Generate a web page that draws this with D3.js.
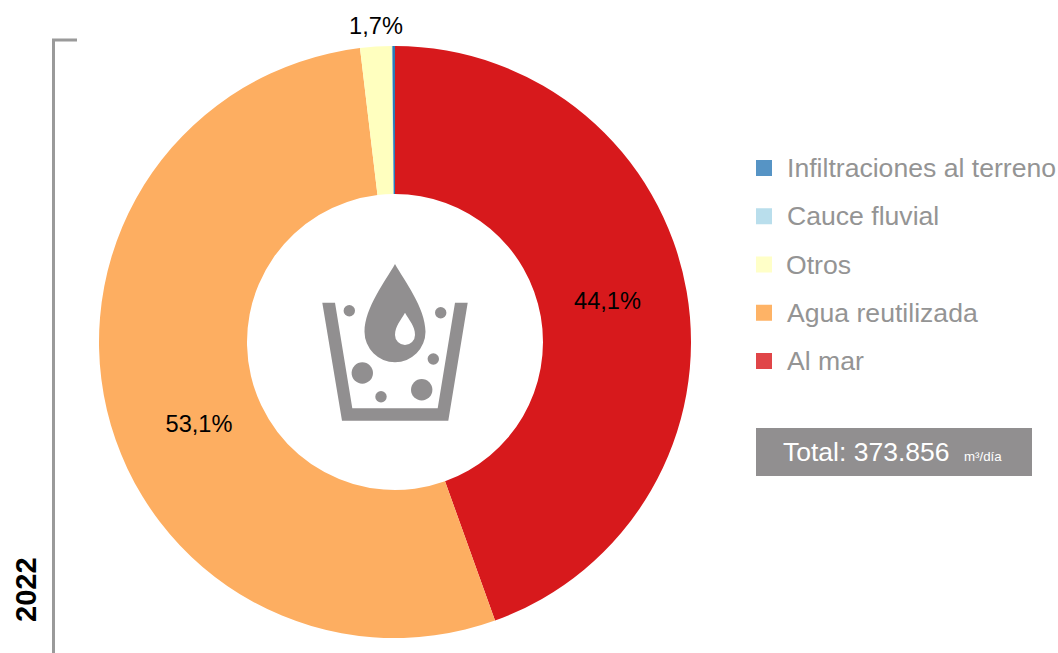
<!DOCTYPE html>
<html><head><meta charset="utf-8">
<style>html,body{margin:0;padding:0;background:#fff;overflow:hidden}svg{display:block}text{font-family:"Liberation Sans",Arial,sans-serif}</style>
<script src="https://cdn.jsdelivr.net/npm/d3@7"></script></head><body>
<script>
const categories = ["Al mar","Agua reutilizada","Otros","Cauce fluvial","Infiltraciones al terreno"];
const values = [44.1,53.1,1.7,0.03,0.14];
const sliceColors = ["#d7191c","#fdae61","#ffffbf","#abd9e9","#2c7bb6"];
const legendOrder = ["Infiltraciones al terreno","Cauce fluvial","Otros","Agua reutilizada","Al mar"];
const legendColors = {"Infiltraciones al terreno":"#5694c5","Cauce fluvial":"#b9deec","Otros":"#ffffc8","Agua reutilizada":"#feb366","Al mar":"#e04548"};
const labelled = {"Al mar":"44,1%","Agua reutilizada":"53,1%","Otros":"1,7%"};
const yearLabel = "2022";

const svg = d3.select("body").append("svg").attr("width",1058).attr("height",653);
const cx=395, cy=342;
const pie = d3.pie().sort(null).value(d=>d.v);
const arcs = pie(categories.map((c,i)=>({c,v:values[i],col:sliceColors[i]})));
const arc = d3.arc().innerRadius(148).outerRadius(296);
const g = svg.append("g").attr("transform",`translate(${cx},${cy})`);
g.selectAll("path").data(arcs).join("path").attr("d",arc).attr("fill",d=>d.data.col);

const labelPos = {"Al mar":[212.5,-41],"Agua reutilizada":[-196,82],"Otros":[-19,-316]};
g.selectAll("text").data(arcs.filter(d=>labelled[d.data.c])).join("text")
 .attr("x",d=>labelPos[d.data.c][0]).attr("y",d=>labelPos[d.data.c][1])
 .attr("text-anchor","middle").attr("dominant-baseline","central")
 .attr("font-size",23.6).attr("fill","#000").text(d=>labelled[d.data.c]);

// bracket
svg.append("path").attr("d","M77,40H53.5V653").attr("fill","none").attr("stroke","#9a9a9a").attr("stroke-width",3);
svg.append("text").attr("transform","translate(36,622) rotate(-90)").attr("font-size",29).attr("font-weight","bold").attr("fill","#000").text(yearLabel);

// legend
const ly = d3.scalePoint().domain(legendOrder).range([168,361]);
const lg = svg.append("g").selectAll("g").data(legendOrder).join("g");
lg.append("rect").attr("x",756).attr("y",d=>ly(d)-8).attr("width",16).attr("height",16).attr("fill",d=>legendColors[d]);
lg.append("text").attr("x",d=>d==="Otros"?786:787).attr("y",d=>ly(d)+9).attr("font-size",26.6).attr("fill","#949494").text(d=>d);

// total
svg.append("rect").attr("x",756).attr("y",428).attr("width",276).attr("height",48).attr("fill","#918f90");
svg.append("text").attr("x",783).attr("y",461).attr("font-size",26.5).attr("fill","#fff").text("Total: 373.856");
svg.append("text").attr("x",964).attr("y",461).attr("font-size",13.3).attr("fill","#fff").text("m³/día");

// icon
const ic = svg.append("g").attr("fill","#918f90");
ic.append("path").attr("d","M322.3,302.7H335L352.3,408.3H437.7L455,302.7H467.7L448.3,420.7H342Z");
ic.append("path").attr("fill-rule","evenodd").attr("d","M395,264C404,280 425.5,308 425.5,331.7A30.5,30.5 0 0 1 364.5,331.7C364.5,308 386,280 395,264Z M405,312.7C409,320 415,326 415,335A10,10 0 0 1 395,335C395,326 401,320 405,312.7Z");
ic.selectAll("circle").data([[349.3,310.7,5.7],[440.7,312.7,5.7],[433.3,359,5.7],[362.3,373,10.7],[421.7,389.7,10.7],[381,396.7,5.7]]).join("circle").attr("cx",d=>d[0]).attr("cy",d=>d[1]).attr("r",d=>d[2]);
</script></body></html>
